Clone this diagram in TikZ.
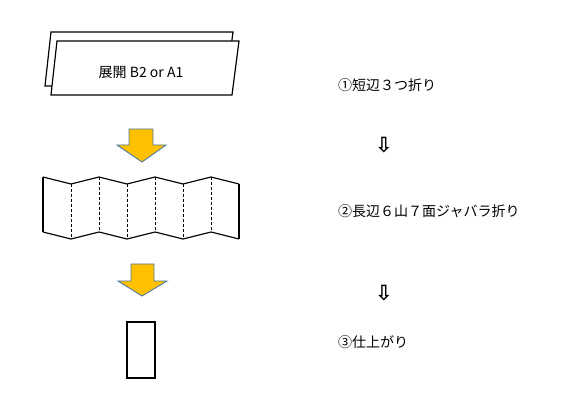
\documentclass[tikz,border=0pt]{standalone}
\usepackage{fontspec}
\setmainfont{Noto Sans CJK JP}
\newfontfamily\arrowfont{DejaVu Sans Bold}

\definecolor{arrowfill}{HTML}{FFC000}
\definecolor{arrowline}{HTML}{4A7BA7}

\tikzset{
  paper/.style={draw, line width=1.2pt, fill=white},
  foldline/.style={draw, line width=1pt, dash pattern=on 3pt off 2pt},
  bigarrow/.style={draw=arrowline, fill=arrowfill, line width=0.9pt},
  steplabel/.style={anchor=west, inner sep=0pt, font=\fontsize{14}{16}\selectfont},
  smallarrow/.style={inner sep=0pt, font=\arrowfont\fontsize{21}{21}\selectfont},
}

\begin{document}
\begin{tikzpicture}[x=1pt, y=-1pt]
            \useasboundingbox (0,0) rectangle (570,419);

            % Draw the flat sheet (two layers)
            \draw[paper] (51,32) -- (233,32) -- (226,86) -- (45,86) -- cycle;
            \draw[paper] (57,41) -- (239,41) -- (232,95) -- (51,95) -- cycle;
            \node[font=\fontsize{14}{16}\selectfont] (sheet) at (141,72) {展開 B2 or A1};

            % Draw the first arrow
            \draw[bigarrow] (129,129) -- (153,129) -- (153,145) -- (166,145) -- (142,162) -- (117,145) -- (129,145) -- cycle;

            % Draw the zigzag edges of the folded sheet
            \draw[paper, fill=none] (43,177) -- (71,184) -- (99,177) -- (127,184) -- (155,177) -- (183,184) -- (211,177) -- (239,184);
            \draw[paper, fill=none] (43,232) -- (71,239) -- (99,232) -- (127,239) -- (155,232) -- (183,239) -- (211,232) -- (239,239);

            % Draw the outer edges and the folds
            \draw[paper] (43,177) -- (43,232);
            \draw[foldline] (71,184) -- (71,239);
            \draw[foldline] (99,177) -- (99,232);
            \draw[foldline] (127,184) -- (127,239);
            \draw[foldline] (155,177) -- (155,232);
            \draw[foldline] (183,184) -- (183,239);
            \draw[foldline] (211,177) -- (211,232);
            \draw[paper] (239,184) -- (239,239);

            % Draw the second arrow
            \draw[bigarrow] (131,264) -- (154,264) -- (154,281) -- (167,281) -- (142,296) -- (118,281) -- (131,281) -- cycle;

            % Draw the finished piece
            \node[paper, minimum width=28pt, minimum height=56pt, inner sep=0pt] (finished) at (141,350) {};

            % Draw the step texts
            \node[steplabel] (step1) at (338,85) {①短辺３つ折り};
            \node[smallarrow] (down1) at (384,145) {⇩};
            \node[steplabel] (step2) at (338,211) {②長辺６山７面ジャバラ折り};
            \node[smallarrow] (down2) at (384,293) {⇩};
            \node[steplabel] (step3) at (338,342) {③仕上がり};

\end{tikzpicture}
\end{document}
